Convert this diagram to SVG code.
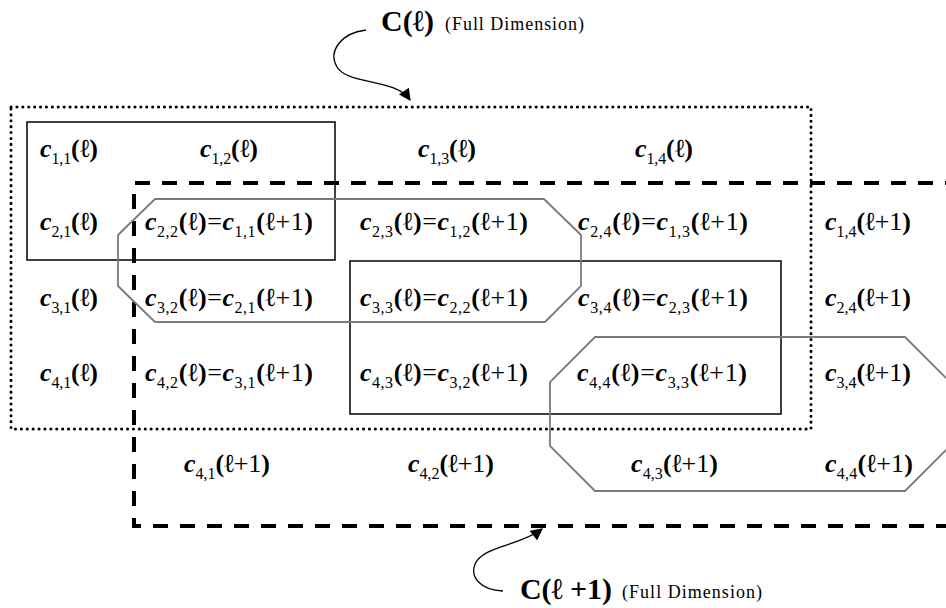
<svg xmlns="http://www.w3.org/2000/svg" width="946" height="608" viewBox="0 0 946 608">
<style>
.m{font-family:'Liberation Serif',serif;font-size:26px;fill:#000}
.c{font-style:italic;font-weight:bold}
.b{font-weight:bold}
.s{font-size:16px}
.sm{font-family:'Liberation Serif',serif;font-size:18px;fill:#000}
.big{font-family:'Liberation Serif',serif;font-size:30px;font-weight:bold;fill:#000}
.dot{fill:none;stroke:#000;stroke-width:3;stroke-linecap:round;stroke-dasharray:0.1 5.8}
.dash{fill:none;stroke:#000;stroke-width:4;stroke-dasharray:15 12}
.box{fill:none;stroke:#000;stroke-width:1.5}
.oct{fill:none;stroke:#7a7a7a;stroke-width:1.8}
.arr{fill:none;stroke:#000;stroke-width:1.3}
</style>
<defs>
<marker id="ah" viewBox="0 0 10 10" refX="9" refY="5" markerWidth="13" markerHeight="12" markerUnits="userSpaceOnUse" orient="auto">
<path d="M0,0 L10,5 L0,10 Z" fill="#000"/>
</marker>
</defs>
<rect width="946" height="608" fill="#fff"/>

<g id="C_l">
<path class="dot" d="M11,107 H811 V429 H11 Z"/>
</g>
<g id="C_l1">
<path class="dash" d="M960,183 H134 V526 H960"/>
</g>
<g id="box1">
<rect class="box" x="27" y="122" width="308" height="138"/>
</g>
<g id="box2">
<rect class="box" x="350" y="261" width="431" height="153"/>
</g>
<g id="oct1">
<path class="oct" d="M155,199 H544 L581,235 V286 L545,322 H155 L118,286 V235 Z"/>
</g>
<g id="oct2">
<path class="oct" d="M595,337 H905 L950,382 V446 L905,491 H595 L550,446 V382 Z"/>
</g>

<g id="cells" class="m">
<text x="40" y="157" textLength="58"><tspan class="c">c</tspan><tspan class="s" dy="7">1,1</tspan><tspan class="b" dy="-7">(ℓ)</tspan></text>
<text x="200" y="157" textLength="58"><tspan class="c">c</tspan><tspan class="s" dy="7">1,2</tspan><tspan class="b" dy="-7">(ℓ)</tspan></text>
<text x="418" y="157" textLength="58"><tspan class="c">c</tspan><tspan class="s" dy="7">1,3</tspan><tspan class="b" dy="-7">(ℓ)</tspan></text>
<text x="635" y="157" textLength="58"><tspan class="c">c</tspan><tspan class="s" dy="7">1,4</tspan><tspan class="b" dy="-7">(ℓ)</tspan></text>

<text x="40" y="230" textLength="58"><tspan class="c">c</tspan><tspan class="s" dy="7">2,1</tspan><tspan class="b" dy="-7">(ℓ)</tspan></text>
<text x="145" y="230" textLength="168"><tspan class="c">c</tspan><tspan class="s" dy="7">2,2</tspan><tspan class="b" dy="-7">(ℓ)</tspan>=<tspan class="c">c</tspan><tspan class="s" dy="7">1,1</tspan><tspan class="b" dy="-7">(ℓ</tspan>+1<tspan class="b">)</tspan></text>
<text x="360" y="230" textLength="168"><tspan class="c">c</tspan><tspan class="s" dy="7">2,3</tspan><tspan class="b" dy="-7">(ℓ)</tspan>=<tspan class="c">c</tspan><tspan class="s" dy="7">1,2</tspan><tspan class="b" dy="-7">(ℓ</tspan>+1<tspan class="b">)</tspan></text>
<text x="578" y="230" textLength="170"><tspan class="c">c</tspan><tspan class="s" dy="7">2,4</tspan><tspan class="b" dy="-7">(ℓ)</tspan>=<tspan class="c">c</tspan><tspan class="s" dy="7">1,3</tspan><tspan class="b" dy="-7">(ℓ</tspan>+1<tspan class="b">)</tspan></text>
<text x="825" y="230" textLength="86"><tspan class="c">c</tspan><tspan class="s" dy="7">1,4</tspan><tspan class="b" dy="-7">(ℓ</tspan>+1<tspan class="b">)</tspan></text>

<text x="40" y="306" textLength="58"><tspan class="c">c</tspan><tspan class="s" dy="7">3,1</tspan><tspan class="b" dy="-7">(ℓ)</tspan></text>
<text x="145" y="306" textLength="168"><tspan class="c">c</tspan><tspan class="s" dy="7">3,2</tspan><tspan class="b" dy="-7">(ℓ)</tspan>=<tspan class="c">c</tspan><tspan class="s" dy="7">2,1</tspan><tspan class="b" dy="-7">(ℓ</tspan>+1<tspan class="b">)</tspan></text>
<text x="360" y="306" textLength="168"><tspan class="c">c</tspan><tspan class="s" dy="7">3,3</tspan><tspan class="b" dy="-7">(ℓ)</tspan>=<tspan class="c">c</tspan><tspan class="s" dy="7">2,2</tspan><tspan class="b" dy="-7">(ℓ</tspan>+1<tspan class="b">)</tspan></text>
<text x="578" y="306" textLength="170"><tspan class="c">c</tspan><tspan class="s" dy="7">3,4</tspan><tspan class="b" dy="-7">(ℓ)</tspan>=<tspan class="c">c</tspan><tspan class="s" dy="7">2,3</tspan><tspan class="b" dy="-7">(ℓ</tspan>+1<tspan class="b">)</tspan></text>
<text x="825" y="306" textLength="86"><tspan class="c">c</tspan><tspan class="s" dy="7">2,4</tspan><tspan class="b" dy="-7">(ℓ</tspan>+1<tspan class="b">)</tspan></text>

<text x="40" y="381" textLength="58"><tspan class="c">c</tspan><tspan class="s" dy="7">4,1</tspan><tspan class="b" dy="-7">(ℓ)</tspan></text>
<text x="145" y="381" textLength="168"><tspan class="c">c</tspan><tspan class="s" dy="7">4,2</tspan><tspan class="b" dy="-7">(ℓ)</tspan>=<tspan class="c">c</tspan><tspan class="s" dy="7">3,1</tspan><tspan class="b" dy="-7">(ℓ</tspan>+1<tspan class="b">)</tspan></text>
<text x="360" y="381" textLength="168"><tspan class="c">c</tspan><tspan class="s" dy="7">4,3</tspan><tspan class="b" dy="-7">(ℓ)</tspan>=<tspan class="c">c</tspan><tspan class="s" dy="7">3,2</tspan><tspan class="b" dy="-7">(ℓ</tspan>+1<tspan class="b">)</tspan></text>
<text x="577" y="381" textLength="170"><tspan class="c">c</tspan><tspan class="s" dy="7">4,4</tspan><tspan class="b" dy="-7">(ℓ)</tspan>=<tspan class="c">c</tspan><tspan class="s" dy="7">3,3</tspan><tspan class="b" dy="-7">(ℓ</tspan>+1<tspan class="b">)</tspan></text>
<text x="825" y="381" textLength="86"><tspan class="c">c</tspan><tspan class="s" dy="7">3,4</tspan><tspan class="b" dy="-7">(ℓ</tspan>+1<tspan class="b">)</tspan></text>

<text x="184" y="472" textLength="86"><tspan class="c">c</tspan><tspan class="s" dy="7">4,1</tspan><tspan class="b" dy="-7">(ℓ</tspan>+1<tspan class="b">)</tspan></text>
<text x="408" y="472" textLength="86"><tspan class="c">c</tspan><tspan class="s" dy="7">4,2</tspan><tspan class="b" dy="-7">(ℓ</tspan>+1<tspan class="b">)</tspan></text>
<text x="631" y="472" textLength="87"><tspan class="c">c</tspan><tspan class="s" dy="7">4,3</tspan><tspan class="b" dy="-7">(ℓ</tspan>+1<tspan class="b">)</tspan></text>
<text x="825" y="472" textLength="88"><tspan class="c">c</tspan><tspan class="s" dy="7">4,4</tspan><tspan class="b" dy="-7">(ℓ</tspan>+1<tspan class="b">)</tspan></text>
</g>

<g id="label_top">
<text class="big" x="381" y="31">C(ℓ)</text>
<text class="sm" x="445" y="30" textLength="139">(Full Dimension)</text>
</g>
<g id="label_bottom">
<text class="big" x="520" y="599" textLength="92">C(ℓ +1)</text>
<text class="sm" x="622" y="598" textLength="140">(Full Dimension)</text>
</g>

<g id="connectors">
<path class="arr" marker-end="url(#ah)" d="M366,30 C340,33 328,52 337,67 C348,85 395,78 410,100"/>
<path class="arr" marker-end="url(#ah)" d="M503,591 C480,590 470,577 475,564 C483,546 520,546 542,529"/>
</g>
</svg>
